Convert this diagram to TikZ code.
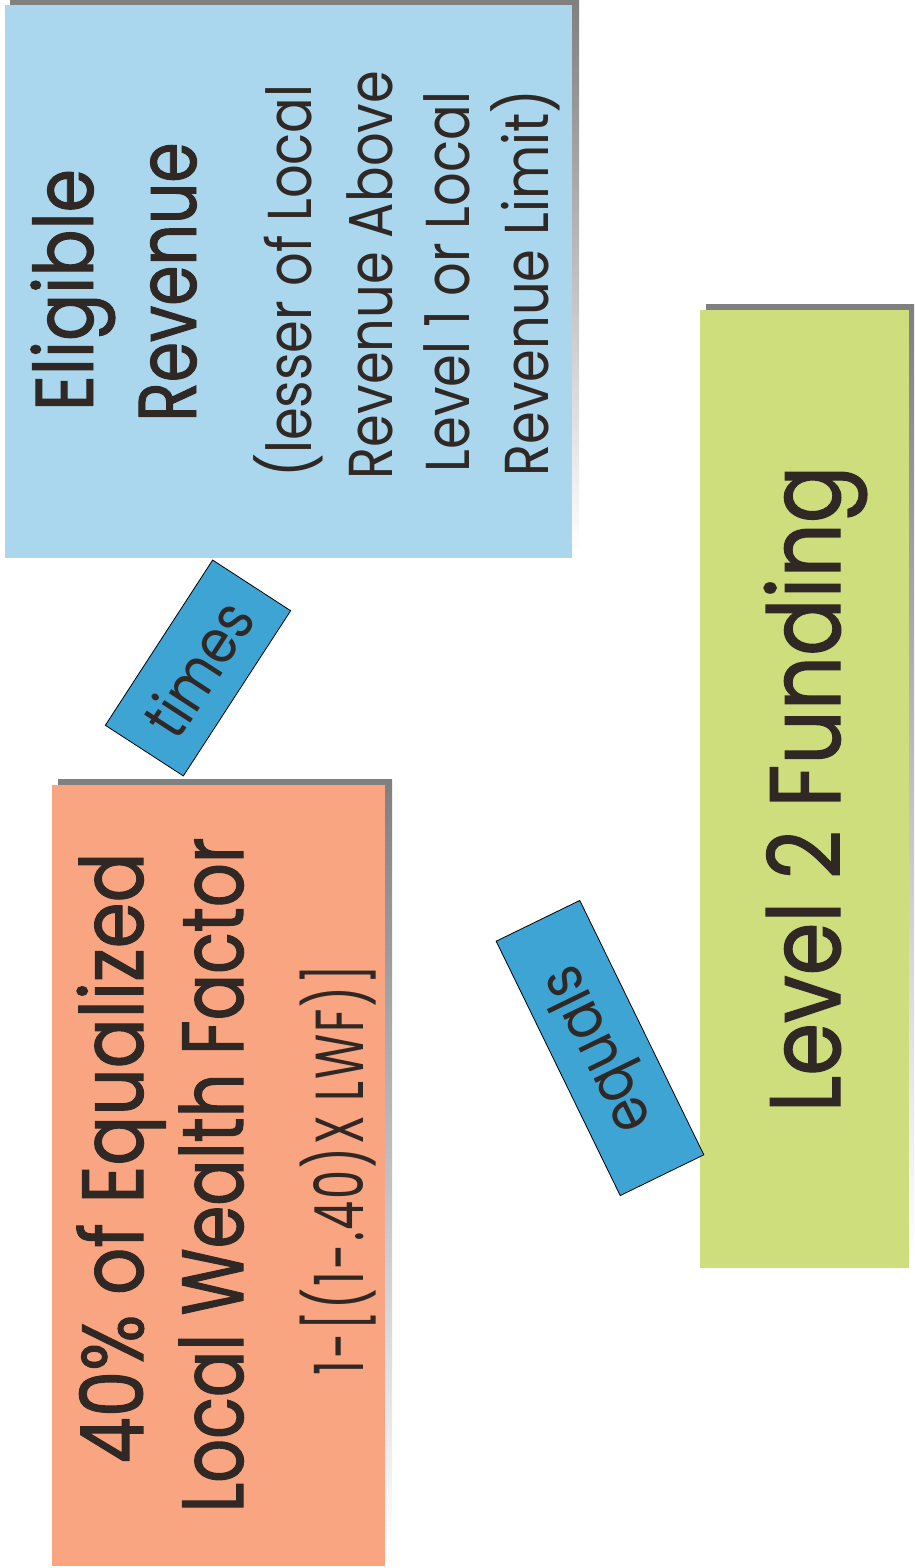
\documentclass[tikz,border=0pt]{standalone}
\usepackage{fontspec}
\setmainfont{Poppins}[FakeStretch=0.85]
\newfontfamily\titlefont{Poppins}[FakeStretch=0.85, FakeBold=1.2]
\newfontfamily\narrowtitle{Poppins}[FakeStretch=0.79, FakeBold=1.2]
\newfontfamily\condfont{Poppins}[FakeStretch=0.68, LetterSpace=3]
\definecolor{bigblue}{RGB}{170,215,238}
\definecolor{salmon}{RGB}{250,165,130}
\definecolor{lime}{RGB}{206,222,125}
\definecolor{tagblue}{RGB}{62,164,212}
\definecolor{shade}{RGB}{150,140,125}
\definecolor{ink}{RGB}{48,40,36}
\tikzset{
  panel/.style={rectangle, draw=none, inner sep=0pt, outer sep=0pt},
  txt/.style={rotate=90, anchor=base, text=ink, inner sep=0pt},
  tag/.style={rectangle, draw=black, line width=0.8pt, fill=tagblue, text=ink,
    inner sep=0pt, minimum height=93pt, font=\fontsize{62}{62}\selectfont},
  sub/.style={font=\fontsize{62}{62}\selectfont},
}
\begin{document}
\begin{tikzpicture}[x=1pt,y=-1pt]
\useasboundingbox (0,0) rectangle (914,1568);
\fill[white] (0,0) rectangle (914,1568);
% shadows
\fill[shade] (10,0) rectangle (579,553);
\fill[shade] (58,779) rectangle (392,1560);
\fill[shade] (706,304) rectangle (914,1262);
% panels
\node[panel, fill=bigblue, minimum width=567pt, minimum height=553pt] (rev) at (288.5,281.5) {};
\node[panel, fill=salmon, minimum width=333pt, minimum height=781pt] (lwf) at (218.5,1175.5) {};
\node[panel, fill=lime, minimum width=209pt, minimum height=958pt] (fund) at (804.5,789) {};
% texts
\node[txt, font=\titlefont\fontsize{82}{82}\selectfont] (t1) at (93,290) {Eligible};
\node[txt, font=\narrowtitle\fontsize{82}{82}\selectfont] (t2) at (196,282) {Revenue};
\node[txt, sub] (t3) at (311,281) {(lesser of Local};
\node[txt, sub] (t4) at (392,275) {Revenue Above};
\node[txt, sub] (t5) at (469,282) {Level 1 or Local};
\node[txt, sub] (t6) at (548,283) {Revenue Limit)};
\node[txt, font=\titlefont\fontsize{87}{87}\selectfont] (o1) at (143,1158) {40\% of Equalized};
\node[txt, font=\narrowtitle\fontsize{87}{87}\selectfont] (o2) at (243,1175) {Local Wealth Factor};
\node[txt, font=\condfont\fontsize{68}{68}\selectfont] (o3) at (363,1170) {1-[(1-.40)X LWF)]};
\node[txt, font=\titlefont\fontsize{100}{100}\selectfont] (g1) at (840,789) {Level 2 Funding};
% operator tags
\node[tag, minimum width=197pt, rotate=57] (times) at (198,668) {times};
\node[tag, minimum width=283pt, rotate=116] (equals) at (600,1048) {equals};
\end{tikzpicture}
\end{document}
